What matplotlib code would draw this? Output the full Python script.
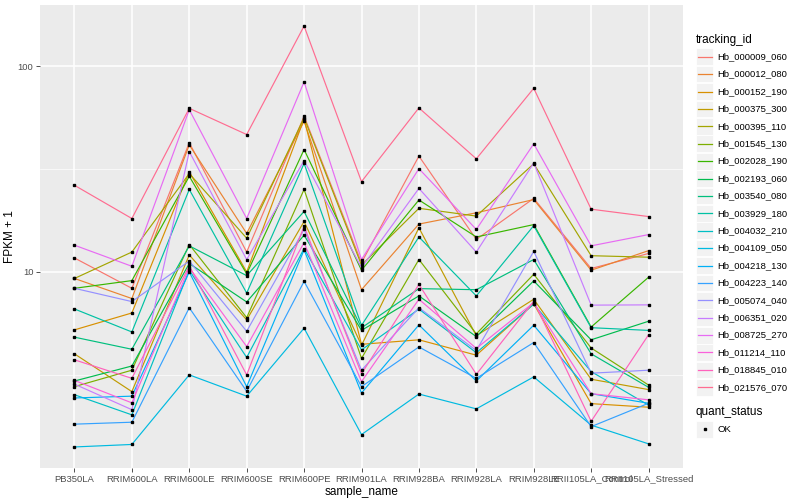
import numpy as np
import matplotlib
matplotlib.use('Agg')
import matplotlib.pyplot as plt
from matplotlib.patches import Rectangle
from matplotlib.lines import Line2D

plt.rcParams['font.family'] = ['Liberation Sans', 'DejaVu Sans']

# 样本（x轴类别）
samples = ['PB350LA', 'RRIM600LA', 'RRIM600LE', 'RRIM600SE', 'RRIM600PE',
           'RRIM901LA', 'RRIM928BA', 'RRIM928LA', 'RRIM928LE',
           'RRII105LA_Control', 'RRII105LA_Stressed']

# 基因ID（图例顺序）
genes = ['Hb_000009_060', 'Hb_000012_080', 'Hb_000152_190', 'Hb_000375_300',
         'Hb_000395_110', 'Hb_001545_130', 'Hb_002028_190', 'Hb_002193_060',
         'Hb_003540_080', 'Hb_003929_180', 'Hb_004032_210', 'Hb_004109_050',
         'Hb_004218_130', 'Hb_004223_140', 'Hb_005074_040', 'Hb_006351_020',
         'Hb_008725_270', 'Hb_011214_110', 'Hb_018845_010', 'Hb_021576_070']

# ggplot 默认色相调色板
colors = ['#F8766D', '#EA8331', '#D89000', '#C09B00', '#A3A500', '#7CAE00',
          '#39B600', '#00BB4E', '#00BF7D', '#00C1A3', '#00BFC4', '#00BAE0',
          '#00B0F6', '#35A2FF', '#9590FF', '#C77CFF', '#E76BF3', '#FA62DB',
          '#FF62BC', '#FF6C91']

# FPKM + 1
fpkm = {
    'Hb_000009_060': [11.7, 8.33, 42.5, 12.5, 57.2, 11.1, 36.6, 14.4, 22.8, 10.4, 12.3],
    'Hb_000012_080': [9.3, 7.43, 41.5, 15.4, 54.1, 8.2, 17.1, 19.4, 22.5, 10.2, 12.7],
    'Hb_000152_190': [5.23, 6.32, 30.7, 10.0, 55.5, 4.45, 4.68, 3.94, 7.0, 2.29, 2.2],
    'Hb_000375_300': [4.0, 2.62, 12.1, 5.85, 17.6, 4.4, 16.4, 4.9, 7.37, 3.01, 2.68],
    'Hb_000395_110': [9.3, 12.5, 30.1, 14.6, 56.2, 10.8, 20.4, 18.7, 33.6, 12.0, 11.8],
    'Hb_001545_130': [2.77, 3.33, 13.6, 6.0, 25.2, 3.8, 11.5, 5.0, 9.75, 4.27, 2.82],
    'Hb_002028_190': [8.33, 9.08, 29.2, 9.8, 39.4, 10.2, 22.4, 14.8, 17.0, 5.4, 9.43],
    'Hb_002193_060': [2.95, 3.49, 11.0, 7.15, 15.1, 5.2, 7.65, 4.85, 9.05, 4.68, 5.76],
    'Hb_003540_080': [4.82, 4.21, 13.4, 9.6, 19.7, 5.35, 8.3, 8.2, 11.5, 4.0, 2.75],
    'Hb_003929_180': [6.61, 5.11, 25.2, 7.9, 33.7, 5.5, 14.8, 7.65, 16.8, 5.36, 5.2],
    'Hb_004032_210': [2.53, 2.02, 10.2, 3.84, 13.0, 4.18, 6.6, 4.05, 6.97, 3.28, 2.25],
    'Hb_004109_050': [1.41, 1.45, 3.16, 2.49, 5.33, 1.62, 2.55, 2.16, 3.09, 1.8, 1.46],
    'Hb_004218_130': [2.44, 2.49, 10.0, 2.77, 12.8, 2.58, 5.53, 2.95, 5.51, 2.56, 2.3],
    'Hb_004223_140': [1.82, 1.86, 6.7, 2.63, 9.0, 2.77, 4.32, 3.04, 4.54, 1.77, 2.3],
    'Hb_005074_040': [8.33, 7.18, 11.3, 5.15, 16.1, 3.33, 6.7, 4.15, 12.6, 3.22, 3.33],
    'Hb_006351_020': [2.85, 2.14, 38.5, 11.5, 34.8, 10.5, 25.5, 12.5, 33.9, 6.9, 6.92],
    'Hb_008725_270': [13.5, 10.66, 61.5, 18.2, 84.0, 11.5, 31.8, 16.1, 42.0, 13.4, 15.2],
    'Hb_011214_110': [2.97, 2.31, 10.5, 4.34, 13.9, 2.93, 7.37, 4.25, 7.1, 2.56, 2.39],
    'Hb_018845_010': [3.74, 3.04, 10.7, 3.16, 16.7, 3.2, 8.7, 3.18, 7.2, 1.88, 4.95],
    'Hb_021576_070': [26.4, 18.2, 62.5, 46.6, 157.0, 27.5, 62.8, 35.5, 78.2, 20.2, 18.6],
}

W, H = 800, 500
fig = plt.figure(figsize=(8, 5), dpi=100)
fig.patch.set_facecolor('white')

# 面板位置（像素）
px0, px1, py0, py1 = 40, 683, 5, 468
ax = fig.add_axes([px0 / W, 1 - py1 / H, (px1 - px0) / W, (py1 - py0) / H])
ax.set_facecolor('#EBEBEB')

x = np.arange(len(samples))
for g, c in zip(genes, colors):
    ax.plot(x, fpkm[g], color=c, lw=0.85, zorder=3)
for g in genes:
    ax.plot(x, fpkm[g], 's', color='black', ms=2.1, zorder=4)

ax.set_yscale('log')
allv = np.log10(np.concatenate([fpkm[g] for g in genes]))
lo, hi = allv.min(), allv.max()
pad = (hi - lo) * 0.05
ax.set_ylim(10 ** (lo - pad), 10 ** (hi + pad))
ax.set_xlim(-0.6, len(samples) - 0.4)

ax.set_yticks([10, 100])
ax.set_yticklabels(['10', '100'])
ax.set_yticks([10 ** 0.5, 10 ** 1.5], minor=True)
ax.yaxis.set_minor_formatter(matplotlib.ticker.NullFormatter())
ax.set_xticks(x)
ax.set_xticklabels(samples)

ax.grid(True, which='major', color='white', lw=1.1, zorder=0)
ax.grid(True, which='minor', axis='y', color='white', lw=0.5, zorder=0)
ax.set_axisbelow(True)
for s in ax.spines.values():
    s.set_visible(False)
ax.tick_params(which='major', length=2.7, width=0.6, color='#333333',
               labelsize=6.8, labelcolor='#4D4D4D', pad=2)
ax.tick_params(which='minor', length=0)

ax.set_xlabel('sample_name', fontsize=8.5, labelpad=1.5)
ax.set_ylabel('FPKM + 1', fontsize=8.5, labelpad=1)

# 图例（像素坐标）
lax = fig.add_axes([0, 0, 1, 1])
lax.set_xlim(0, W)
lax.set_ylim(H, 0)
lax.axis('off')

lax.text(696, 40.5, 'tracking_id', fontsize=8.5, va='center', ha='left')
y0, dy = 56.7, 17.4
for i, (g, c) in enumerate(zip(genes, colors)):
    yc = y0 + i * dy
    lax.add_patch(Rectangle((696, yc - 8.4), 17, 16.8, facecolor='#F2F2F2',
                            edgecolor='white', lw=0.6))
    lax.add_line(Line2D([697.5, 711.5], [yc, yc], color=c, lw=0.9))
    lax.text(717, yc, g, fontsize=6.8, va='center', ha='left')

lax.text(696, 412.3, 'quant_status', fontsize=8.5, va='center', ha='left')
lax.add_patch(Rectangle((696, 429.3 - 8.4), 17, 16.8, facecolor='#F2F2F2',
                        edgecolor='white', lw=0.6))
lax.plot([704.5], [429.3], 's', color='black', ms=2.1)
lax.text(717, 429.3, 'OK', fontsize=6.8, va='center', ha='left')

fig.savefig('out.png', dpi=100)
